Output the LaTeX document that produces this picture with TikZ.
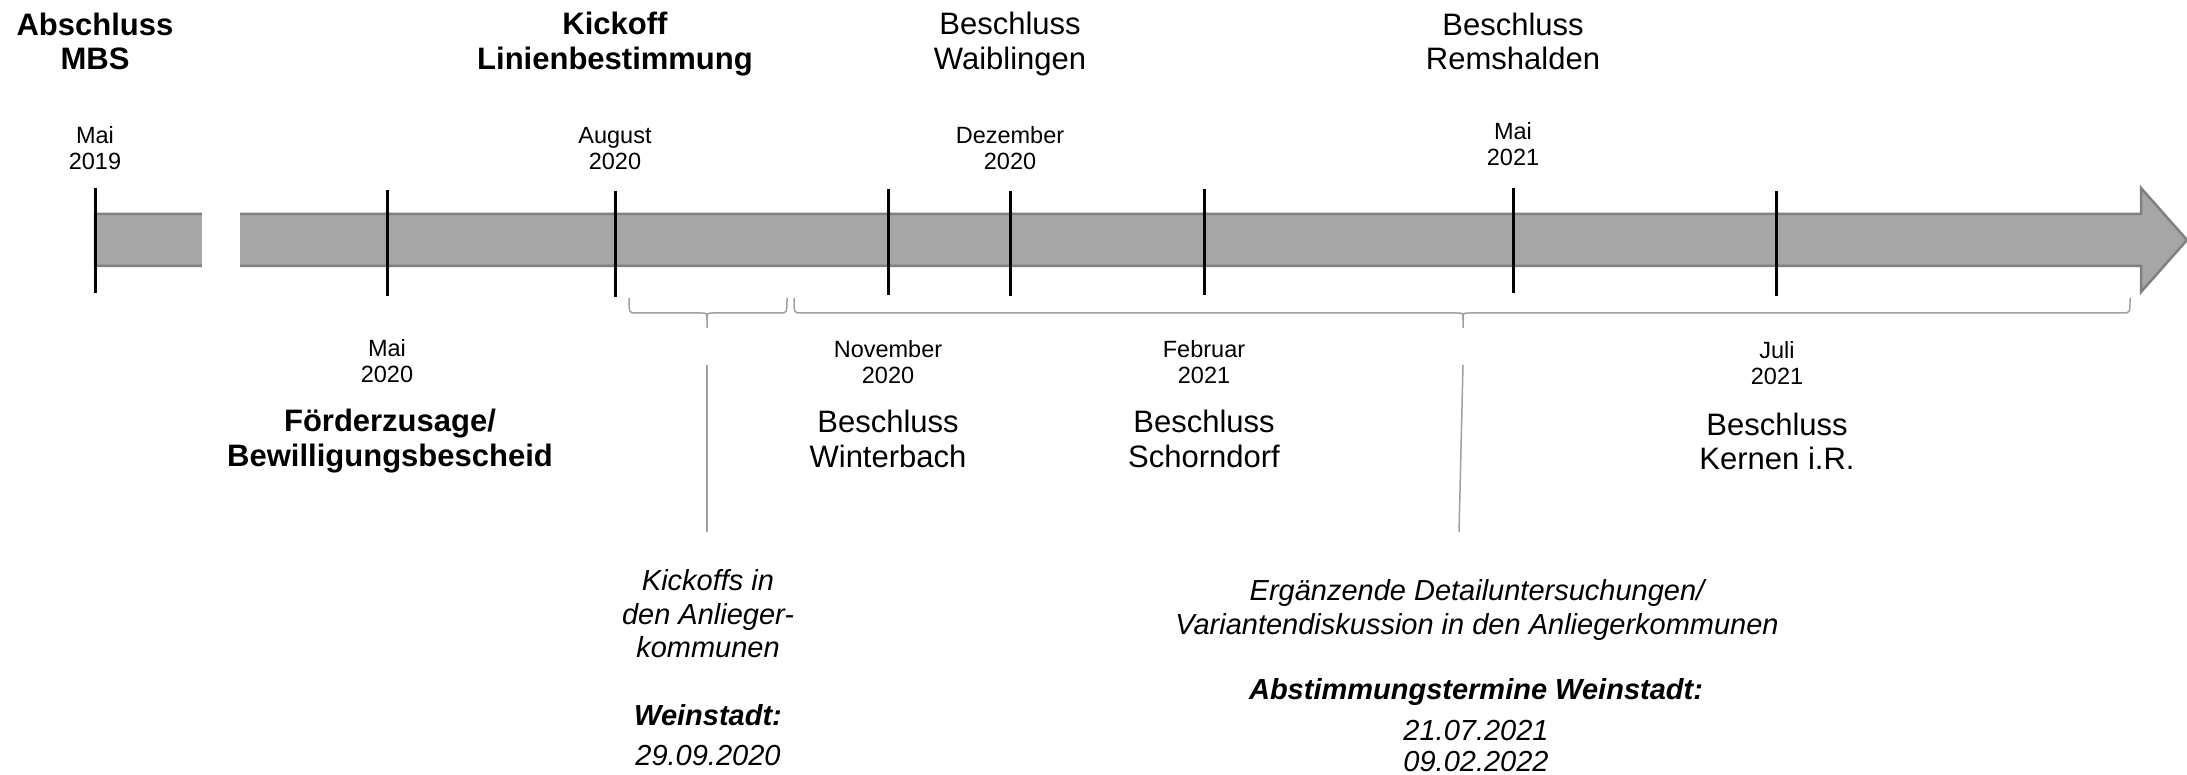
\documentclass[tikz,border=0pt]{standalone}
\usepackage{fontspec}
\setmainfont{Liberation Sans}
\definecolor{barfill}{RGB}{166,166,166}
\definecolor{barline}{RGB}{128,128,128}
\definecolor{bracegray}{RGB}{160,160,160}
\tikzset{
  small/.style={font=\fontsize{23.5}{26}\selectfont, align=center, inner sep=0pt},
  head/.style={font=\fontsize{31}{34.5}\selectfont\bfseries, align=center, inner sep=0pt},
  besch/.style={font=\fontsize{31}{34.5}\selectfont, align=center, inner sep=0pt},
  ital/.style={font=\fontsize{29}{33.5}\selectfont\itshape, align=center, inner sep=0pt},
  tickmark/.style={line width=3pt, black},
  bracepath/.style={draw=bracegray, line width=1.5pt},
  guide/.style={draw=bracegray, line width=1.5pt},
}
\begin{document}
\begin{tikzpicture}[x=1pt,y=-1pt]
\useasboundingbox (0,0) rectangle (2187,775);

% timeline arrow
\path[fill=barfill, draw=barline, line width=2.5pt]
  (95,214) -- (2141,214) -- (2141,188) -- (2187,240) -- (2141,292) -- (2141,266) -- (95,266) -- cycle;
\fill[white] (202,205) rectangle (240,275);

% tick marks
\draw[tickmark] (95,188) -- (95,293);
\draw[tickmark] (387,190) -- (387,296);
\draw[tickmark] (615,191) -- (615,297);
\draw[tickmark] (888,189) -- (888,295);
\draw[tickmark] (1010,191) -- (1010,296);
\draw[tickmark] (1204,189) -- (1204,295);
\draw[tickmark] (1513,188) -- (1513,293);
\draw[tickmark] (1776,191) -- (1776,296);

% top headings
\node[head] (abschluss) at (95,41.5) {Abschluss\\MBS};
\node[head] (kickoff) at (615,44) {Kickoff\\Linienbestimmung};
\node[besch] (waiblingen) at (1010,44) {Beschluss\\Waiblingen};
\node[besch] (remshalden) at (1513,41.5) {Beschluss\\Remshalden};

% top dates
\node[small] (d2019) at (95,148.5) {Mai\\2019};
\node[small] (daug) at (615,148.5) {August\\2020};
\node[small] (ddez) at (1010,148.5) {Dezember\\2020};
\node[small] (dmai21) at (1513,144.5) {Mai\\2021};

% bottom dates
\node[small] (dmai20) at (387,361.5) {Mai\\2020};
\node[small] (dnov) at (888,362.5) {November\\2020};
\node[small] (dfeb) at (1204,362.5) {Februar\\2021};
\node[small] (djuli) at (1777,363) {Juli\\2021};

% bottom events
\node[head] (foerder) at (390,441) {Förderzusage/\\Bewilligungsbescheid};
\node[besch] (winterbach) at (888,439) {Beschluss\\Winterbach};
\node[besch] (schorndorf) at (1204,439) {Beschluss\\Schorndorf};
\node[besch] (kernen) at (1777,441.5) {Beschluss\\Kernen i.R.};

% braces
\coordinate (b1l) at (629,298);
\coordinate (b1r) at (787,298);
\coordinate (b1m) at (707,328);
\path[bracepath] (b1l) .. controls (629,313) .. (636,313) -- (701,313) .. controls (707,313) .. (707,320) -- (b1m);
\path[bracepath] (b1r) .. controls (787,313) .. (780,313) -- (713,313) .. controls (707,313) .. (707,320);

\coordinate (b2l) at (794,298);
\coordinate (b2r) at (2130,298);
\coordinate (b2m) at (1463,328);
\path[bracepath] (b2l) .. controls (794,313) .. (801,313) -- (1457,313) .. controls (1463,313) .. (1463,320) -- (b2m);
\path[bracepath] (b2r) .. controls (2130,313) .. (2123,313) -- (1469,313) .. controls (1463,313) .. (1463,320);

% guide lines
\coordinate (g1a) at (707,365);
\coordinate (g1b) at (707,532);
\coordinate (g2a) at (1463,365);
\coordinate (g2b) at (1459,532);
\draw[guide] (g1a) -- (g1b);
\draw[guide] (g2a) -- (g2b);

% italic notes
\node[ital] (kickoffs) at (708,614) {Kickoffs in\\den Anlieger-\\kommunen};
\node[ital, font=\fontsize{29}{33.5}\selectfont\bfseries\itshape] (weinstadt) at (708,715) {Weinstadt:};
\node[ital] (datum1) at (708,756) {29.09.2020};

\node[ital] (ergaenzend) at (1477,610) {Ergänzende Detailuntersuchungen/\\Variantendiskussion in den Anliegerkommunen};
\node[ital, font=\fontsize{29}{33.5}\selectfont\bfseries\itshape] (abstimmung) at (1476,692) {Abstimmungstermine Weinstadt:};
\node[ital, font=\fontsize{29}{31}\selectfont\itshape] (datum2) at (1476,746.5) {21.07.2021\\09.02.2022};
\end{tikzpicture}
\end{document}
